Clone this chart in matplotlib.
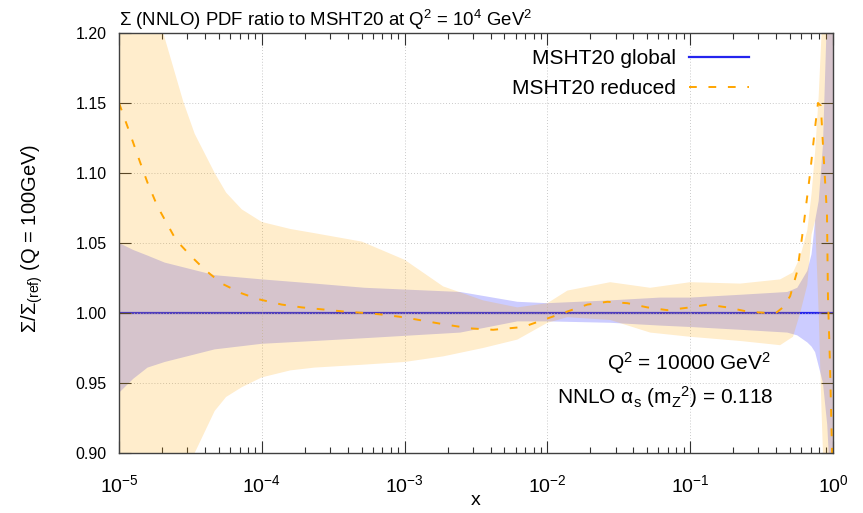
"""
Sigma (NNLO) PDF ratio plot, MSHT20 global vs reduced
"""
import numpy as np
import matplotlib
matplotlib.use('Agg')
import matplotlib.pyplot as plt
from matplotlib.ticker import FixedLocator, LogLocator, NullFormatter

plt.rcParams['font.family'] = ['Liberation Sans', 'DejaVu Sans']
plt.rcParams['mathtext.fontset'] = 'custom'
plt.rcParams['mathtext.rm'] = 'Liberation Sans'
plt.rcParams['mathtext.it'] = 'Liberation Sans:italic'
plt.rcParams['mathtext.bf'] = 'Liberation Sans:bold'

### values (x given as log10 x)
reduced_band_logx = [-5.0, -4.9, -4.8, -4.69, -4.55, -4.47, -4.33, -4.25, -4.14, -4.0,
                     -3.8, -3.63, -3.3, -3.0, -2.73, -2.45, -2.21, -2.0, -1.86, -1.56,
                     -1.28, -1.0, -0.65, -0.37, -0.28, -0.23, -0.18, -0.15, -0.125,
                     -0.10, -0.08, -0.06, -0.04, 0.0]
reduced_upper = [1.32, 1.27, 1.235, 1.20, 1.151, 1.128, 1.10, 1.086, 1.074, 1.065,
                 1.060, 1.057, 1.051, 1.038, 1.019, 1.009, 1.004, 1.007, 1.016, 1.022,
                 1.018, 1.022, 1.021, 1.024, 1.029, 1.040, 1.059, 1.085, 1.115,
                 1.155, 1.20, 1.26, 1.35, 1.60]
reduced_lower = [0.78, 0.81, 0.845, 0.87, 0.89, 0.90, 0.930, 0.940, 0.947, 0.954,
                 0.959, 0.961, 0.963, 0.965, 0.969, 0.975, 0.981, 0.993, 0.997, 0.995,
                 0.986, 0.983, 0.980, 0.977, 0.983, 1.000, 1.020, 1.056, 1.066,
                 1.000, 0.930, 0.870, 0.800, 0.600]

global_band_logx = [-5.0, -4.9, -4.8, -4.68, -4.33, -4.0, -3.63, -3.28, -2.61, -2.21,
                    -2.0, -1.56, -1.21, -1.0, -0.65, -0.32, -0.25, -0.18, -0.15,
                    -0.125, -0.10, -0.07, -0.04, -0.03, -0.02, 0.0]
global_upper = [1.050, 1.045, 1.041, 1.036, 1.027, 1.024, 1.021, 1.018, 1.015, 1.008,
                1.007, 1.009, 1.011, 1.011, 1.013, 1.015, 1.018, 1.030, 1.042,
                1.066, 1.080, 1.120, 1.220, 1.280, 1.350, 1.500]
global_lower = [0.943, 0.953, 0.961, 0.965, 0.974, 0.978, 0.980, 0.982, 0.986, 0.994,
                0.994, 0.993, 0.991, 0.990, 0.988, 0.986, 0.984, 0.979, 0.976,
                0.972, 0.962, 0.950, 0.920, 0.900, 0.850, 0.600]

reduced_logx = [-5.0, -4.94, -4.85, -4.8, -4.73, -4.6, -4.49, -4.4, -4.28, -4.14,
                -4.03, -3.86, -3.72, -3.42, -3.28, -3.17, -3.01, -2.73, -2.54, -2.38,
                -2.17, -2.03, -1.89, -1.72, -1.58, -1.44, -1.30, -1.16, -1.0, -0.88,
                -0.74, -0.60, -0.46, -0.40, -0.35, -0.30, -0.25, -0.21, -0.16, -0.127,
                -0.105, -0.085, -0.07, -0.042, -0.035, -0.021, -0.007, 0.0]
reduced_central = [1.150, 1.133, 1.107, 1.093, 1.076, 1.052, 1.040, 1.031, 1.021, 1.014,
                   1.010, 1.006, 1.004, 1.001, 1.000, 0.999, 0.997, 0.992, 0.989, 0.988,
                   0.990, 0.995, 1.000, 1.006, 1.008, 1.007, 1.004, 1.002, 1.004, 1.006,
                   1.004, 1.001, 1.000, 1.000, 1.004, 1.012, 1.030, 1.059, 1.100, 1.131,
                   1.150, 1.148, 1.120, 1.071, 1.011, 0.964, 0.904, 0.870]

global_logx = [-5.0, 0.0]
global_central = [1.0, 1.0]

y_ticks = [0.90, 0.95, 1.00, 1.05, 1.10, 1.15, 1.20]
x_ticks = [1e-5, 1e-4, 1e-3, 1e-2, 1e-1, 1e0]

BLUE = '#2424ee'
ORANGE = '#ffa500'

fig = plt.figure(figsize=(8.63, 5.13), dpi=100)
ax = fig.add_axes([0.1379, 0.1170, 0.8273, 0.8187])

xb = 10 ** np.array(global_band_logx)
ax.fill_between(xb, global_lower, global_upper, color='#0000ff', alpha=0.2,
                linewidth=0, zorder=1)
ax.plot(10 ** np.array(global_logx), global_central, color=BLUE, lw=1.6,
        zorder=2, label='MSHT20 global')
xr = 10 ** np.array(reduced_band_logx)
ax.fill_between(xr, reduced_lower, reduced_upper, color=ORANGE, alpha=0.2,
                linewidth=0, zorder=3)
ax.plot(10 ** np.array(reduced_logx), reduced_central, color=ORANGE, lw=1.4,
        dashes=(4, 6), zorder=4, label='MSHT20 reduced')

ax.set_xscale('log')
ax.set_xlim(1e-5, 1.0)
ax.set_ylim(0.90, 1.20)
ax.xaxis.set_major_locator(FixedLocator(x_ticks))
ax.xaxis.set_minor_locator(LogLocator(base=10, subs=np.arange(2, 10)))
ax.xaxis.set_minor_formatter(NullFormatter())
ax.set_yticks(y_ticks)
ax.set_yticklabels([f'{v:.2f}' for v in y_ticks])

ax.grid(True, which='major', color='#b8b8b8', linestyle=(0, (1, 2.5)), linewidth=0.6)
ax.set_axisbelow(False)
for sp in ax.spines.values():
    sp.set_color('#404040')
    sp.set_linewidth(1.0)
    sp.set_zorder(6)

ax.tick_params(which='both', direction='in', top=True, right=True, color='#303030')
ax.tick_params(which='major', length=8.5, width=0.8)
ax.tick_params(which='minor', length=4.3, width=0.8)
ax.tick_params(axis='y', labelsize=11.5, pad=9)
ax.tick_params(axis='x', labelsize=14, pad=15)

ax.set_xlabel('x', fontsize=14, labelpad=-3)
ax.set_ylabel('Σ/Σ$_\\mathrm{(ref)}$ (Q = 100GeV)', fontsize=14.5)
ax.yaxis.set_label_coords(-0.104, 0.51)

ax.set_title('Σ (NNLO) PDF ratio to MSHT20 at Q$^2$ = 10$^4$ GeV$^2$',
             loc='left', fontsize=13.4, pad=5)

leg = ax.legend(loc='upper right', bbox_to_anchor=(0.897, 0.987), frameon=False,
                markerfirst=False, fontsize=15, handlelength=2.9,
                handletextpad=0.6, borderpad=0, labelspacing=0.55)
leg.set_zorder(7)

ax.text(0.913, 0.214, 'Q$^2$ = 10000 GeV$^2$', transform=ax.transAxes,
        ha='right', va='center', fontsize=15, zorder=7)
ax.text(0.917, 0.133, 'NNLO α$_\\mathrm{s}$ (m$_\\mathrm{Z}{}^\\mathrm{2}$) = 0.118',
        transform=ax.transAxes, ha='right', va='center', fontsize=15, zorder=7)

fig.savefig('out.png', dpi=100)
